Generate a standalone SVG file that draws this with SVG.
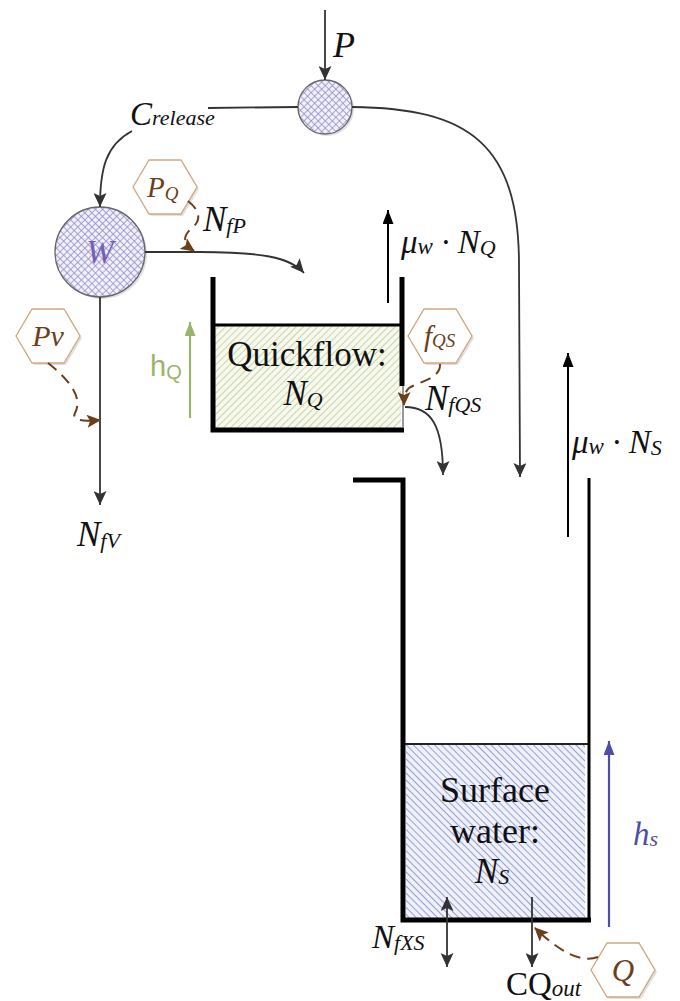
<svg xmlns="http://www.w3.org/2000/svg" width="680" height="1001" viewBox="0 0 680 1001">
<style>
.t{font-family:"Liberation Serif",serif;fill:#111}
.m{font-family:"Liberation Serif",serif;font-style:italic;fill:#111}
.br{fill:#6b3f1a}
.c{fill:none;stroke:#333;stroke-width:1.8}
.bd{fill:none;stroke:#6b3f1a;stroke-width:2;stroke-dasharray:11,7}
.wall{stroke:#000;stroke-width:5;fill:none}
.hex{fill:#fff;stroke:#d3a77c;stroke-width:1.3}
.shd{fill:#000;opacity:0.12}
</style>
<defs>
<pattern id="cross" width="5" height="5" patternUnits="userSpaceOnUse" patternTransform="rotate(45)">
<rect width="5" height="5" fill="#f1effa"/>
<path d="M0,0 V5 M0,0 H5" stroke="#8c88c4" stroke-width="1.4"/>
</pattern>
<pattern id="gh" width="5" height="5" patternUnits="userSpaceOnUse" patternTransform="rotate(45)">
<rect width="5" height="5" fill="#f7f9ef"/>
<path d="M0,0 V5" stroke="#b4c68a" stroke-width="1.4"/>
</pattern>
<pattern id="bh" width="5" height="5" patternUnits="userSpaceOnUse" patternTransform="rotate(-45)">
<rect width="5" height="5" fill="#eef0fa"/>
<path d="M0,0 V5" stroke="#7d84c6" stroke-width="1.5"/>
</pattern>
<marker id="ag" markerWidth="14" markerHeight="13" refX="14" refY="6.5" orient="auto-start-reverse" markerUnits="userSpaceOnUse">
<path d="M0,0 L14,6.5 L0,13 L3,6.5z" fill="#333"/>
</marker>
<marker id="ak" markerWidth="14" markerHeight="11" refX="14" refY="5.5" orient="auto" markerUnits="userSpaceOnUse">
<path d="M0,0 L14,5.5 L0,11z" fill="#000"/>
</marker>
<marker id="ab" markerWidth="14" markerHeight="13" refX="13" refY="6.5" orient="auto" markerUnits="userSpaceOnUse">
<path d="M0,0 L14,6.5 L0,13 L3,6.5z" fill="#6b3f1a"/>
</marker>
<marker id="agr" markerWidth="14" markerHeight="11" refX="14" refY="5.5" orient="auto" markerUnits="userSpaceOnUse">
<path d="M0,0 L14,5.5 L0,11z" fill="#9bb46c"/>
</marker>
<marker id="abl" markerWidth="14" markerHeight="11" refX="14" refY="5.5" orient="auto" markerUnits="userSpaceOnUse">
<path d="M0,0 L14,5.5 L0,11z" fill="#4c4fa3"/>
</marker>
<polygon id="hx" points="-32,0 -16,-27 16,-27 32,0 16,27 -16,27"/>
</defs>

<!-- top mixing node -->
<g id="node-P">
<circle cx="327" cy="109" r="27" class="shd"/>
<circle cx="325" cy="107" r="27" fill="url(#cross)" stroke="#666" stroke-width="1.3"/>
<text class="m" x="333" y="57" font-size="36">P</text>
</g>

<g id="label-Crelease">
<text class="m" x="130" y="125" font-size="33">C<tspan font-size="22">release</tspan></text>
</g>

<g id="node-W">
<circle cx="102" cy="254" r="45" class="shd"/>
<circle cx="100" cy="252" r="45" fill="url(#cross)" stroke="#666" stroke-width="1.3"/>
<text x="100" y="263" font-size="33" text-anchor="middle" font-family="Liberation Serif,serif" font-style="italic" fill="#7561b3">W</text>
</g>

<g id="node-PQ">
<use href="#hx" x="167" y="189" class="shd"/>
<use href="#hx" x="165" y="187" class="hex"/>
<text class="m br" x="147" y="197" font-size="29">P<tspan font-size="19" dy="3">Q</tspan></text>
</g>
<g id="label-NfP">
<text class="m" x="203" y="231" font-size="35">N<tspan font-size="22" dy="2">fP</tspan></text>
</g>

<g id="node-Pv">
<use href="#hx" x="50" y="338" class="shd"/>
<use href="#hx" x="48" y="336" class="hex"/>
<text class="m br" x="48" y="346" font-size="30" text-anchor="middle">Pv</text>
</g>
<g id="label-NfV">
<text class="m" x="77" y="546" font-size="35">N<tspan font-size="22" dy="2">fV</tspan></text>
</g>

<g id="label-hQ">
<text x="150" y="376" font-family="Liberation Sans,sans-serif" font-size="29" fill="#9bb46c">h<tspan font-size="20" dy="3">Q</tspan></text>
</g>

<!-- quickflow tank -->
<g id="tank-quickflow">
<rect x="215" y="326" width="186" height="102" fill="url(#gh)"/>
<line x1="213" y1="325" x2="402" y2="325" stroke="#000" stroke-width="3"/>
<polyline class="wall" points="213,277 213,430 404,430"/>
<line class="wall" x1="402" y1="277" x2="402" y2="386"/>
<line x1="403" y1="386" x2="403" y2="428" stroke="#777" stroke-width="1.5"/>
<text class="t" x="307" y="366" font-size="35" text-anchor="middle">Quickflow:</text>
<text class="m" x="303" y="405" font-size="35" text-anchor="middle">N<tspan font-size="22" dy="2">Q</tspan></text>
</g>

<g id="label-muNQ">
<text class="m" x="401" y="253" font-size="33">μ<tspan font-size="23" dy="1">w</tspan><tspan dy="-1"> · N</tspan><tspan font-size="22" dy="2">Q</tspan></text>
</g>

<g id="node-fQS">
<use href="#hx" x="442" y="338" class="shd"/>
<use href="#hx" x="440" y="336" class="hex"/>
<text class="m br" x="424" y="346" font-size="29">f<tspan font-size="19" dy="1">QS</tspan></text>
</g>
<g id="label-NfQS">
<text class="m" x="425" y="410" font-size="35">N<tspan font-size="22" dy="2">fQS</tspan></text>
</g>

<!-- surface water tank -->
<g id="tank-surface">
<rect x="406" y="745" width="179" height="173" fill="url(#bh)"/>
<line x1="403" y1="744" x2="589" y2="744" stroke="#222" stroke-width="2"/>
<polyline class="wall" points="353,480 403,480 403,920 591,920"/>
<line x1="589" y1="478" x2="589" y2="920" stroke="#000" stroke-width="3"/>
<text class="t" x="495" y="802" font-size="36" text-anchor="middle">Surface</text>
<text class="t" x="495" y="843" font-size="36" text-anchor="middle">water:</text>
<text class="m" x="492" y="883" font-size="35" text-anchor="middle">N<tspan font-size="22" dy="1">S</tspan></text>
</g>

<g id="label-muNS">
<text class="m" x="572" y="453" font-size="33">μ<tspan font-size="23" dy="1">w</tspan><tspan dy="-1"> · N</tspan><tspan font-size="22" dy="2">S</tspan></text>
</g>

<g id="label-hS">
<text x="633" y="845" font-family="Liberation Serif,serif" font-style="italic" font-size="33" fill="#4c4fa3">h<tspan font-size="22" dy="1">s</tspan></text>
</g>

<g id="label-NfXS">
<text class="m" x="372" y="948" font-size="33">N<tspan font-size="22" dy="2">fXS</tspan></text>
</g>
<g id="label-CQout">
<text class="t" x="506" y="995" font-size="33">CQ<tspan class="m" font-size="23" dy="1">out</tspan></text>
</g>

<g id="node-Q">
<use href="#hx" x="625" y="972" class="shd"/>
<use href="#hx" x="623" y="970" class="hex"/>
<text class="m br" x="623" y="981" font-size="31" text-anchor="middle">Q</text>
</g>

<!-- connectors -->
<g id="connectors">
<line class="c" x1="325" y1="10" x2="325" y2="80" marker-end="url(#ag)"/>
<line class="c" x1="208" y1="108" x2="298" y2="107"/>
<path class="c" d="M352,107 C470,108 519,145 519,265 L520,477" marker-end="url(#ag)"/>
<path class="c" d="M132,131 C106,145 100,168 100,207" marker-end="url(#ag)"/>
<path class="c" d="M145,252 L200,252 C260,252 290,257 304,273" marker-end="url(#ag)"/>
<line class="c" x1="100" y1="297" x2="100" y2="505" marker-end="url(#ag)"/>
<path class="bd" d="M188,201 Q207,216 191,229 Q178,240 194,251" marker-end="url(#ab)"/>
<path class="bd" d="M48,363 Q86,393 75,413 Q70,423 100,420" marker-end="url(#ab)"/>
<path class="bd" d="M440,364 C441,378 421,381 409,388 Q404,392 404,405" marker-end="url(#ab)"/>
<path class="c" d="M405,407 C431,407 443,425 443,475" marker-end="url(#ag)"/>
<line x1="388" y1="303" x2="388" y2="210" stroke="#000" stroke-width="2" marker-end="url(#ak)"/>
<line x1="568" y1="537" x2="568" y2="353" stroke="#000" stroke-width="2" marker-end="url(#ak)"/>
<line x1="190" y1="418" x2="190" y2="322" stroke="#9bb46c" stroke-width="2.2" marker-end="url(#agr)"/>
<line x1="609" y1="927" x2="609" y2="741" stroke="#4c4fa3" stroke-width="2.2" marker-end="url(#abl)"/>
<line class="c" x1="447" y1="897" x2="447" y2="967" marker-start="url(#ag)" marker-end="url(#ag)"/>
<line class="c" x1="532" y1="897" x2="532" y2="967" marker-end="url(#ag)"/>
<path class="bd" d="M598,957 Q574,966 535,928" marker-end="url(#ab)"/>
</g>
</svg>
